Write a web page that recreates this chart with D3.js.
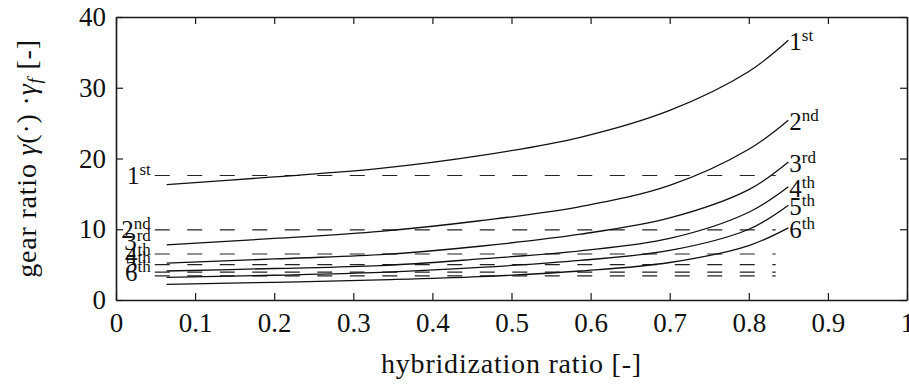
<!DOCTYPE html>
<html>
<head>
<meta charset="utf-8">
<script src="https://cdn.jsdelivr.net/npm/d3@7"></script>
<style>
  body { margin: 0; background: #fff; }
  svg text { font-family: "Liberation Serif", "DejaVu Serif", serif; fill: #111; }
</style>
</head>
<body>
<svg id="chart" width="909" height="385"></svg>
<script>
// hybridization ratio samples used for the solid curves
const hybrid = [0.064, 0.2, 0.334, 0.46, 0.587, 0.70, 0.80, 0.85];

// gear ratio * final drive per gear (solid curves)
const gear1 = [16.3, 17.4, 18.6, 20.4, 23.0, 26.8, 32.3, 36.7];
const gear2 = [7.8, 8.7, 9.7, 11.2, 13.2, 16.2, 21.3, 25.4];
const gear3 = [5.2, 5.8, 6.4, 7.6, 9.3, 11.6, 15.6, 19.5];
const gear4 = [4.1, 4.45, 4.85, 5.8, 6.95, 8.7, 12.4, 16.0];
const gear5 = [3.2, 3.5, 3.9, 4.6, 5.6, 7.0, 10.0, 13.4];
const gear6 = [2.2, 2.5, 2.85, 3.3, 4.1, 5.3, 7.7, 10.2];

// conventional gearbox ratios (dashed lines) and their x extent
const conventional = [17.6, 9.9, 6.5, 5.0, 3.95, 3.4];
const dashedRange = [0.049, 0.834];

// labels
const gearNums = ['1', '2', '3', '4', '5', '6'];
const gearSups = ['st', 'nd', 'rd', 'th', 'th', 'th'];
const leftLabelY = [17.6, 10.1, 8.4, 6.35, 5.2, 3.9];
const leftLabelX = 0.044;

const xTicks = [0, 0.1, 0.2, 0.3, 0.4, 0.5, 0.6, 0.7, 0.8, 0.9, 1];
const yTicks = [0, 10, 20, 30, 40];

const gears = [gear1, gear2, gear3, gear4, gear5, gear6];

const margin = { top: 17, right: 2, bottom: 85, left: 116 };
const width = 909 - margin.left - margin.right;
const height = 385 - margin.top - margin.bottom;

const svg = d3.select('#chart');
const g = svg.append('g')
  .attr('transform', `translate(${margin.left},${margin.top})`);

const x = d3.scaleLinear().domain([0, 1]).range([0, width]);
const y = d3.scaleLinear().domain([0, 40]).range([height, 0]);

const fmt = d => d === 0 || d === 1 ? String(d) : d3.format('.1f')(d);

// axes, ticks pointing inwards on all four sides
g.append('g')
  .attr('class', 'axis')
  .attr('transform', `translate(0,${height})`)
  .call(d3.axisBottom(x).tickValues(xTicks).tickFormat(fmt).tickSize(-7).tickSizeOuter(0).tickPadding(13));
g.append('g')
  .attr('class', 'axis')
  .call(d3.axisTop(x).tickValues(xTicks).tickFormat('').tickSize(-7).tickSizeOuter(0));
g.append('g')
  .attr('class', 'axis')
  .call(d3.axisLeft(y).tickValues(yTicks).tickSize(-7).tickSizeOuter(0).tickPadding(10));
g.append('g')
  .attr('class', 'axis')
  .attr('transform', `translate(${width},0)`)
  .call(d3.axisRight(y).tickValues(yTicks).tickFormat('').tickSize(-7).tickSizeOuter(0));

g.selectAll('.axis path').attr('stroke', '#1a1a1a').attr('stroke-width', 1.6);
g.selectAll('.axis line').attr('stroke', '#1a1a1a').attr('stroke-width', 1.2);
g.selectAll('.axis text')
  .attr('font-size', 27)
  .attr('font-family', '"Liberation Serif", serif')
  .attr('fill', '#111');

// dashed conventional ratios
g.selectAll('.conv')
  .data(conventional)
  .enter()
  .append('line')
  .attr('class', 'conv')
  .attr('x1', x(dashedRange[0]))
  .attr('x2', x(dashedRange[1]))
  .attr('y1', d => y(d))
  .attr('y2', d => y(d))
  .attr('stroke', '#222')
  .attr('stroke-width', 1.2)
  .attr('stroke-dasharray', '15,17.5');

// solid curves
const line = d3.line()
  .x((d, i) => x(hybrid[i]))
  .y(d => y(d))
  .curve(d3.curveCatmullRom.alpha(0.5));

g.selectAll('.gear')
  .data(gears)
  .enter()
  .append('path')
  .attr('class', 'gear')
  .attr('fill', 'none')
  .attr('stroke', '#111')
  .attr('stroke-width', 1.3)
  .attr('d', line);

// gear label: big numeral + superscript suffix
function gearLabel(sel, i, anchor) {
  sel.attr('text-anchor', anchor);
  sel.append('tspan').attr('font-size', 25).text(gearNums[i]);
  sel.append('tspan').attr('font-size', 17).attr('dy', -9).text(gearSups[i]);
}

// left labels next to dashed lines
leftLabelY.forEach((v, i) => {
  const t = g.append('text')
    .attr('x', x(leftLabelX))
    .attr('y', y(v) + 9);
  gearLabel(t, i, 'end');
});

// right labels at curve ends
gears.forEach((s, i) => {
  const last = s[s.length - 1];
  const t = g.append('text')
    .attr('x', x(hybrid[hybrid.length - 1]) + 1)
    .attr('y', y(last) + 10);
  gearLabel(t, i, 'start');
});

// axis titles
g.append('text')
  .attr('x', width / 2)
  .attr('y', height + 73)
  .attr('text-anchor', 'middle')
  .attr('font-size', 28)
  .attr('letter-spacing', 0.8)
  .text('hybridization ratio [-]');

const yt = g.append('text')
  .attr('transform', `translate(${-80},${height / 2}) rotate(-90)`)
  .attr('text-anchor', 'middle')
  .attr('font-size', 28)
  .attr('letter-spacing', 0.8);
yt.append('tspan').text('gear ratio ');
yt.append('tspan').attr('font-style', 'italic').text('γ');
yt.append('tspan').text('(·) ·');
yt.append('tspan').attr('font-style', 'italic').text('γ');
yt.append('tspan').attr('font-style', 'italic').attr('font-size', 19).attr('dy', 5).text('f');
yt.append('tspan').attr('dy', -5).text(' [-]');
</script>
</body>
</html>
